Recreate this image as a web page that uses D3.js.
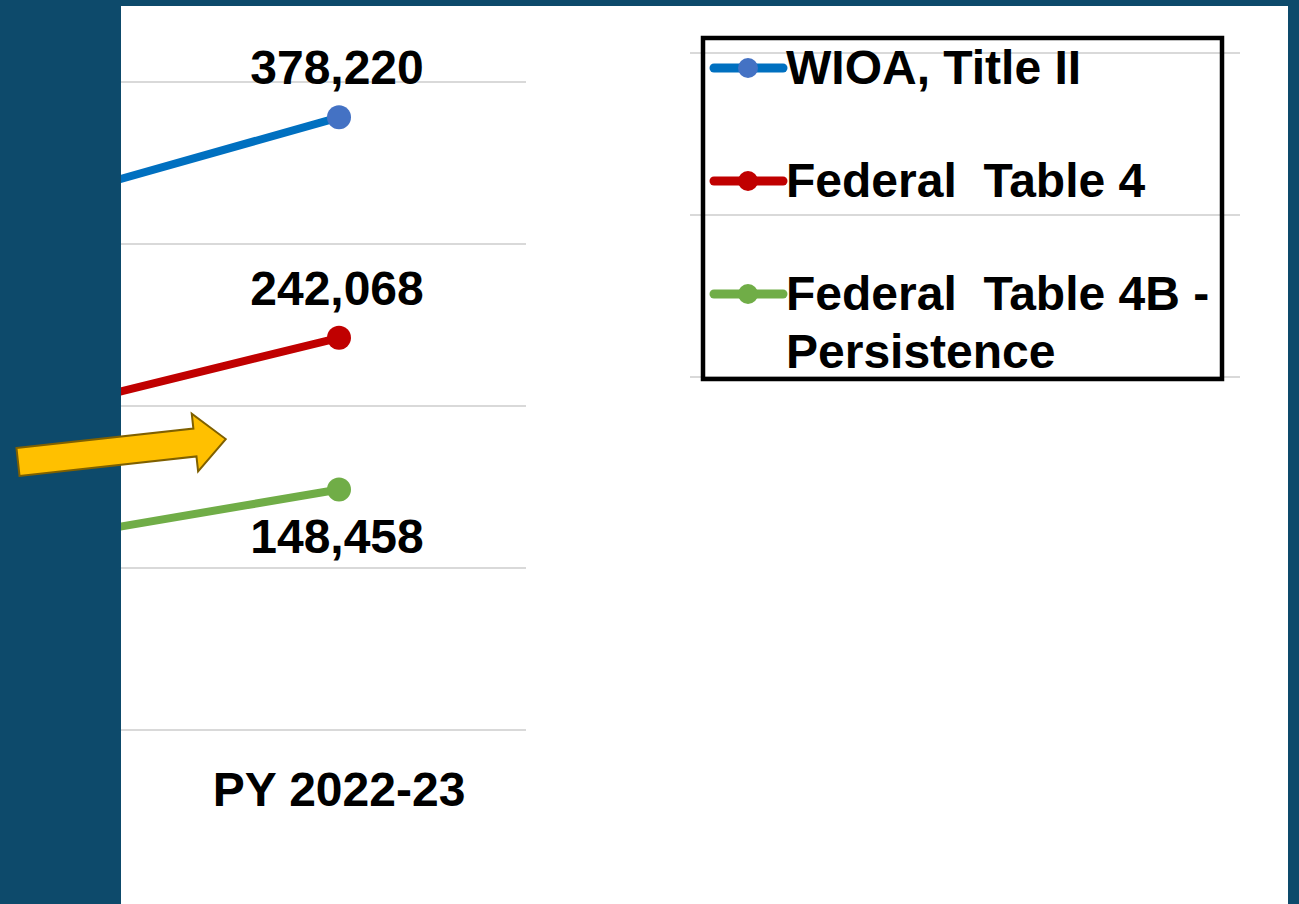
<!DOCTYPE html>
<html>
<head>
<meta charset="utf-8">
<script src="https://cdn.jsdelivr.net/npm/d3@7"></script>
<style>
  body { margin: 0; background: #0d4a6b; }
  text { font-family: "Liberation Sans", Arial, sans-serif; font-weight: bold; fill: #000; }
</style>
</head>
<body>
<svg id="chart"></svg>
<script>
var w = 1299;
var h = 904;

// data
let categories = ["PY 2021-22", "PY 2022-23"];
let seriesNames = ["WIOA, Title II", "Federal Table 4", "Federal Table 4B - Persistence"];
let wioa = [312900, 378220];
let table4 = [185500, 242068];
let table4b = [109300, 148458];
let yTicks = [0, 100000, 200000, 300000, 400000];
let legendLines = [["WIOA, Title II"], ["Federal  Table 4"], ["Federal  Table 4B -", "Persistence"]];

let series = [
    { name: seriesNames[0], values: wioa, line: "#0070c0", dot: "#4472c4", labelPos: "above" },
    { name: seriesNames[1], values: table4, line: "#c00000", dot: "#c00000", labelPos: "above" },
    { name: seriesNames[2], values: table4b, line: "#70ad47", dot: "#70ad47", labelPos: "below" }
];

var svg = d3.select("#chart")
    .attr("width", w)
    .attr("height", h);

// dark slide background + white panel
svg.append("rect").attr("width", w).attr("height", h).attr("fill", "#0d4a6b");
svg.append("rect")
    .attr("x", 121).attr("y", 6)
    .attr("width", 1167).attr("height", h - 6)
    .attr("fill", "#ffffff");

svg.append("clipPath").attr("id", "panel")
    .append("rect").attr("x", 121).attr("y", 6).attr("width", 1167).attr("height", h - 6);

var x = d3.scalePoint()
    .domain(categories)
    .range([-222, 526])
    .padding(0.5);
var y = d3.scaleLinear()
    .domain([0, 400000])
    .range([730, 82]);
// grid of the neighbouring chart seen behind the legend
var y2 = d3.scaleLinear()
    .domain([0, 400000])
    .range([701, 53]);

var g = svg.append("g").attr("clip-path", "url(#panel)");

// gridlines
g.selectAll(".grid")
    .data(yTicks)
    .enter()
    .append("line")
    .attr("x1", x.range()[0])
    .attr("x2", x.range()[1])
    .attr("y1", d => y(d))
    .attr("y2", d => y(d))
    .attr("stroke", "#d9d9d9")
    .attr("stroke-width", 2);

g.selectAll(".grid2")
    .data(yTicks.filter(d => d >= 200000))
    .enter()
    .append("line")
    .attr("x1", 690)
    .attr("x2", 1240)
    .attr("y1", d => y2(d))
    .attr("y2", d => y2(d))
    .attr("stroke", "#d9d9d9")
    .attr("stroke-width", 2);

// category label (only the one inside the visible panel)
g.selectAll(".cat")
    .data(categories.filter(c => x(c) > 121))
    .enter()
    .append("text")
    .attr("x", d => x(d))
    .attr("y", 806)
    .attr("text-anchor", "middle")
    .attr("font-size", 48)
    .text(d => d);

var line = d3.line()
    .x((d, i) => x(categories[i]))
    .y(d => y(d));

series.forEach(s => {
    g.append("path")
        .attr("d", line(s.values))
        .attr("fill", "none")
        .attr("stroke", s.line)
        .attr("stroke-width", 8)
        .attr("stroke-linecap", "round");
    g.selectAll(null)
        .data(s.values)
        .enter()
        .append("circle")
        .attr("cx", (d, i) => x(categories[i]))
        .attr("cy", d => y(d))
        .attr("r", 12)
        .attr("fill", s.dot);
    // value label on the last point
    let last = s.values.length - 1;
    g.append("text")
        .attr("x", x(categories[last]) - 2)
        .attr("y", y(s.values[last]) + (s.labelPos == "above" ? -33 : 64))
        .attr("text-anchor", "middle")
        .attr("font-size", 48)
        .text(d3.format(",")(s.values[last]));
});

// legend
var lg = svg.append("g");
series.forEach((s, i) => {
    let cy = 68 + i * 113;
    lg.append("line")
        .attr("x1", 714).attr("x2", 783)
        .attr("y1", cy).attr("y2", cy)
        .attr("stroke", s.line)
        .attr("stroke-width", 9)
        .attr("stroke-linecap", "round");
    lg.append("circle")
        .attr("cx", 748).attr("cy", cy).attr("r", 10)
        .attr("fill", s.dot);
    legendLines[i].forEach((t, k) => {
        lg.append("text")
            .attr("x", 786)
            .attr("y", cy + 16 + k * 58)
            .attr("font-size", 48)
            .attr("xml:space", "preserve")
            .style("white-space", "pre")
            .text(t);
    });
});
lg.append("rect")
    .attr("x", 703).attr("y", 38)
    .attr("width", 519).attr("height", 341)
    .attr("fill", "none")
    .attr("stroke", "#000")
    .attr("stroke-width", 4.5);

// call-out arrow
var arrowPts = [[0, -14], [178, -14], [178, -29], [209, 0], [178, 29], [178, 14], [0, 14]];
svg.append("polygon")
    .attr("points", arrowPts.map(p => p.join(",")).join(" "))
    .attr("transform", "translate(18,462) rotate(-6.3)")
    .attr("fill", "#ffc000")
    .attr("stroke", "#7f6000")
    .attr("stroke-width", 2);
</script>
</body>
</html>
